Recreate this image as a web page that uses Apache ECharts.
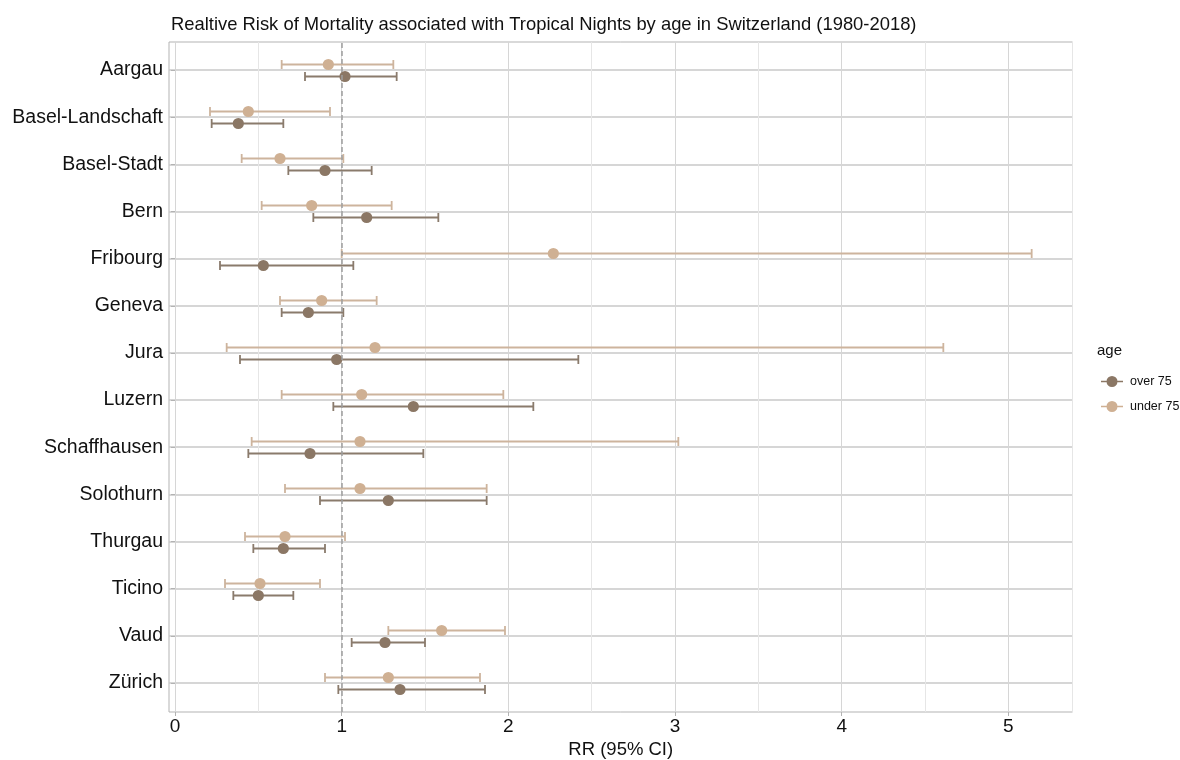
<!DOCTYPE html>
<html>
<head>
  <meta charset="UTF-8">
  <title>Relative risk of mortality, tropical nights</title>
  <script src="https://cdn.jsdelivr.net/npm/echarts@6/dist/echarts.min.js"></script>
  <style>
    html, body { margin: 0; padding: 0; background: #fff; }
    #chart { width: 1180px; height: 760px; }
  </style>
</head>
<body>
  <div id="chart"></div>
  <script>
// cantons, top to bottom
const cantons = ['Aargau', 'Basel-Landschaft', 'Basel-Stadt', 'Bern', 'Fribourg', 'Geneva', 'Jura',
  'Luzern', 'Schaffhausen', 'Solothurn', 'Thurgau', 'Ticino', 'Vaud', 'Zürich']

// over 75: RR, lower and upper CI
const over75Rr = [1.02, 0.38, 0.90, 1.15, 0.53, 0.80, 0.97, 1.43, 0.81, 1.28, 0.65, 0.50, 1.26, 1.35]
const over75Lo = [0.78, 0.22, 0.68, 0.83, 0.27, 0.64, 0.39, 0.95, 0.44, 0.87, 0.47, 0.35, 1.06, 0.98]
const over75Hi = [1.33, 0.65, 1.18, 1.58, 1.07, 1.01, 2.42, 2.15, 1.49, 1.87, 0.90, 0.71, 1.50, 1.86]

// under 75
const under75Rr = [0.92, 0.44, 0.63, 0.82, 2.27, 0.88, 1.20, 1.12, 1.11, 1.11, 0.66, 0.51, 1.60, 1.28]
const under75Lo = [0.64, 0.21, 0.40, 0.52, 1.00, 0.63, 0.31, 0.64, 0.46, 0.66, 0.42, 0.30, 1.28, 0.90]
const under75Hi = [1.31, 0.93, 1.01, 1.30, 5.14, 1.21, 4.61, 1.97, 3.02, 1.87, 1.02, 0.87, 1.98, 1.83]

const xTicks = [0, 1, 2, 3, 4, 5]

const font = 'Liberation Sans, Arial, sans-serif'

// one row per canton: [index, rr, lo, hi]
function rows (rr, lo, hi) {
  return cantons.map((c, i) => [i, rr[i], lo[i], hi[i]])
}

// error bar with caps + point, shifted a few px (dodge)
function forestItem (shift, barColor, dotColor) {
  return function (params, api) {
    const i = api.value(0)
    const p = api.coord([api.value(1), i])
    const a = api.coord([api.value(2), i])
    const b = api.coord([api.value(3), i])
    const y = Math.round(p[1] + shift) + 0.5
    const bar = { stroke: barColor, lineWidth: 1.8 }
    return {
      type: 'group',
      children: [
        { type: 'line', shape: { x1: a[0], y1: y, x2: b[0], y2: y }, style: bar },
        { type: 'line', shape: { x1: a[0], y1: y - 4.5, x2: a[0], y2: y + 4.5 }, style: bar },
        { type: 'line', shape: { x1: b[0], y1: y - 4.5, x2: b[0], y2: y + 4.5 }, style: bar },
        { type: 'circle', shape: { cx: p[0], cy: y, r: 5.6 }, style: { fill: dotColor } }
      ]
    }
  }
}

const legendIcon = 'path://M0,5.2H22V6.8H0Z M5.5,6A5.5,5.5 0 1,1 16.5,6A5.5,5.5 0 1,1 5.5,6Z'

const chart = echarts.init(document.getElementById('chart'))
chart.setOption({
  animation: false,
  title: [{
    text: 'Realtive Risk of Mortality associated with Tropical Nights by age in Switzerland (1980-2018)',
    left: 166,
    top: 11,
    textStyle: { fontFamily: font, fontSize: 18.4, fontWeight: 'normal', color: '#111' }
  }, {
    text: 'age',
    left: 1092,
    top: 338,
    textStyle: { fontFamily: font, fontSize: 15, fontWeight: 'normal', color: '#111' }
  }],
  legend: {
    orient: 'vertical',
    left: 1096,
    top: 370,
    itemWidth: 22,
    itemHeight: 12,
    itemGap: 12,
    selectedMode: false,
    icon: legendIcon,
    textStyle: { fontFamily: font, fontSize: 12.5, color: '#111', padding: [0, 0, 0, 2] },
    data: ['over 75', 'under 75']
  },
  grid: [
    // 0: data rows
    { left: 169, right: 107.5, top: 70, bottom: 77, outerBoundsMode: 'none' },
    // 1: vertical grid lines (x = 0 at 175px)
    { left: 175, right: 107.5, top: 42, bottom: 48, outerBoundsMode: 'none' },
    // 2: panel border
    { left: 169, right: 107.5, top: 42, bottom: 48, outerBoundsMode: 'none', show: true, borderColor: '#b3b3b3', borderWidth: 1, backgroundColor: 'transparent' }
  ],
  xAxis: [{
    gridIndex: 0,
    type: 'value',
    min: -0.036,
    max: 5.385,
    offset: 29,
    axisLine: { show: false },
    splitLine: { show: false },
    axisTick: { show: true, length: 4, customValues: xTicks, lineStyle: { color: '#b3b3b3', width: 1 } },
    axisLabel: { customValues: xTicks, margin: 5, fontFamily: font, fontSize: 19, color: '#111' },
    name: 'RR (95% CI)',
    nameLocation: 'middle',
    nameGap: 27,
    nameTextStyle: { fontFamily: font, fontSize: 18.5, color: '#111' }
  }, {
    gridIndex: 1,
    type: 'value',
    min: 0,
    max: 5.385,
    interval: 0.5,
    axisLine: { show: false },
    axisTick: { show: false },
    axisLabel: { show: false },
    splitLine: { show: true, lineStyle: { color: ['#d6d6d6', '#e6e6e6'], width: 1 } }
  }, {
    gridIndex: 2,
    type: 'value',
    show: false
  }],
  yAxis: [{
    gridIndex: 0,
    type: 'category',
    inverse: true,
    boundaryGap: false,
    data: cantons,
    axisLine: { show: false },
    axisTick: { show: true, length: 4, lineStyle: { color: '#b3b3b3' } },
    axisLabel: { margin: 6, fontFamily: font, fontSize: 19.5, color: '#111' },
    splitLine: { show: true, lineStyle: { color: '#c9c9c9', width: 1.5 } }
  }, {
    gridIndex: 1,
    type: 'value',
    min: 0,
    max: 1,
    show: false
  }, {
    gridIndex: 2,
    type: 'value',
    show: false
  }],
  series: [{
    name: 'ref',
    type: 'line',
    xAxisIndex: 1,
    yAxisIndex: 1,
    data: [[1, 0.5]],
    symbol: 'none',
    silent: true,
    markLine: {
      silent: true,
      symbol: 'none',
      label: { show: false },
      lineStyle: { color: '#9e9e9e', type: [5, 3], width: 1.5 },
      data: [{ xAxis: 1 }]
    }
  }, {
    name: 'under 75',
    type: 'custom',
    xAxisIndex: 0,
    yAxisIndex: 0,
    clip: false,
    itemStyle: { color: '#cfb093' },
    encode: { x: [1, 2, 3], y: 0 },
    renderItem: forestItem(-6, '#cdb49d', '#cfb093'),
    data: rows(under75Rr, under75Lo, under75Hi)
  }, {
    name: 'over 75',
    type: 'custom',
    xAxisIndex: 0,
    yAxisIndex: 0,
    clip: false,
    itemStyle: { color: '#8b7765' },
    encode: { x: [1, 2, 3], y: 0 },
    renderItem: forestItem(6, '#8a7b6c', '#8b7765'),
    data: rows(over75Rr, over75Lo, over75Hi)
  }]
})
  </script>
</body>
</html>
